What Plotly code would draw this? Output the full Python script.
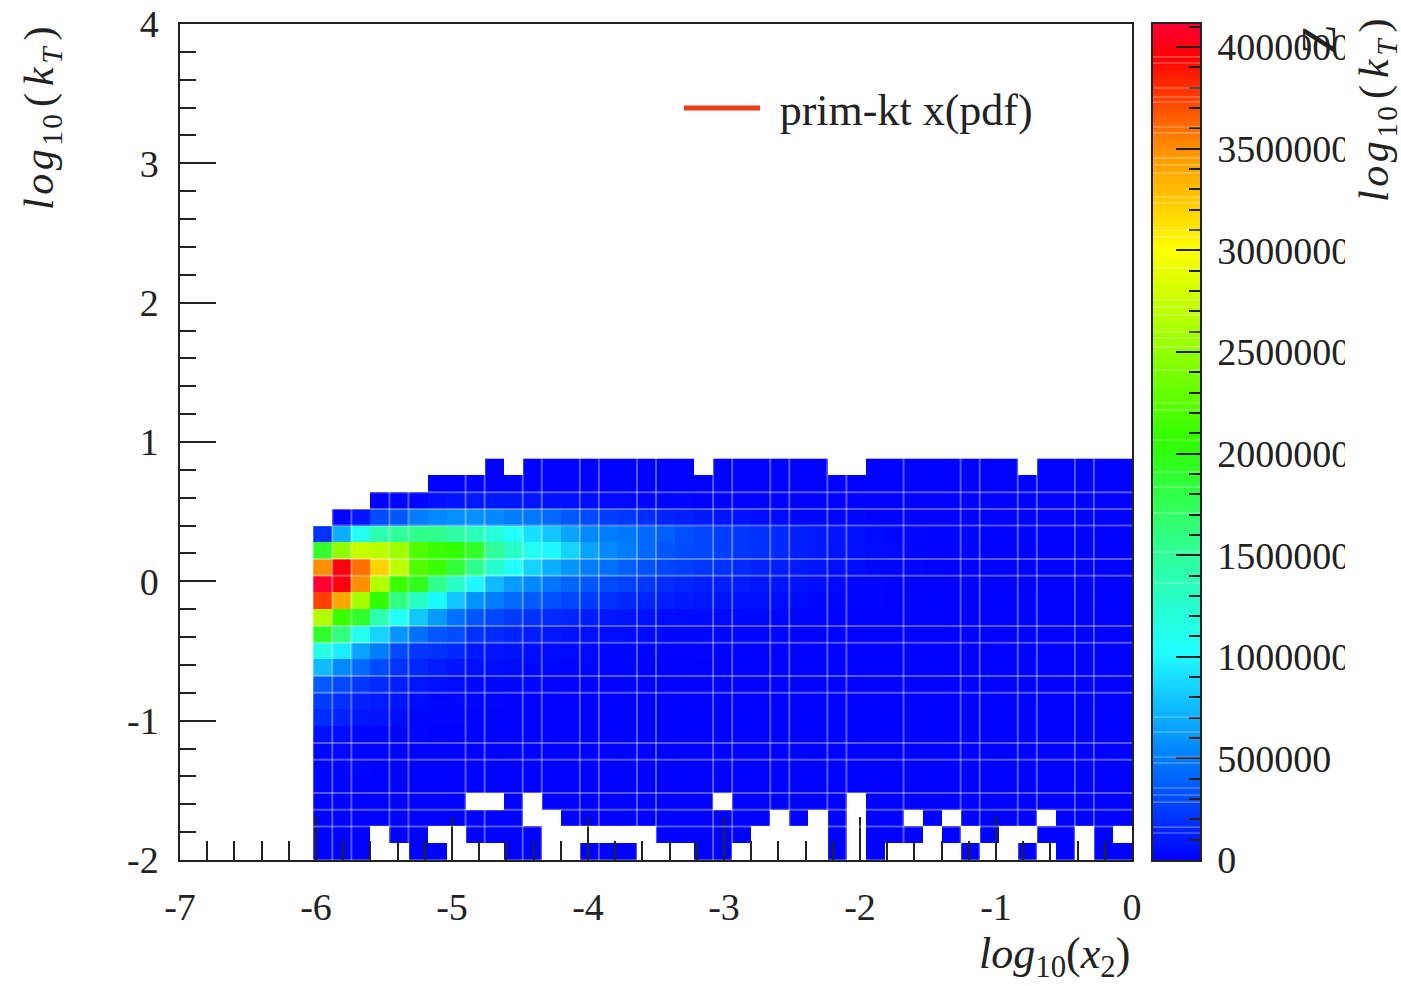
import numpy as np
import plotly.graph_objects as go

N = None
W, H = 1401, 986
FONT = "Liberation Serif"
INK = "#222222"

# bin grid of the histogram (log10 x2, log10 kT)
x_edges = [round(-6.02 + 0.14 * i, 2) for i in range(44)]
y_edges = [round(-2 + 0.12 * i, 2) for i in range(25)]

# cell contents in units of 10 000 entries; None = empty bin
row_00 = [1,1,1,N,N,1,1,N,N,N,1,1,N,N,1,1,1,N,N,N,1,1,N,N,N,N,N,1,N,1,N,N,N,N,1,N,N,1,N,1,N,1,1]
row_01 = [1,1,1,N,1,1,N,N,1,1,1,1,N,N,N,N,N,N,1,1,1,1,1,N,N,N,N,1,N,1,1,1,N,1,N,1,N,N,1,1,N,1,N]
row_02 = [1,1,1,1,1,1,1,1,1,1,1,N,N,1,1,1,1,1,1,1,1,1,1,1,N,1,N,1,N,1,1,N,1,N,1,1,1,1,N,1,1,1,1]
row_03 = [1,1,1,1,1,1,1,1,N,N,1,N,1,1,1,1,1,1,1,1,1,N,1,1,1,1,1,1,N,1,1,1,1,1,1,1,1,1,1,1,1,1,1]
row_04 = [2,2,1,1,1,1,1,1,1,1,1,1,1,1,1,1,1,1,1,1,1,1,1,1,1,1,1,1,1,1,1,1,1,1,1,1,1,1,1,1,1,1,1]
row_05 = [2,2,2,1,1,1,1,1,1,1,1,1,1,1,1,1,1,1,1,1,1,1,1,1,1,1,1,1,1,1,1,1,1,1,1,1,1,1,1,1,1,1,1]
row_06 = [3,3,2,2,1,1,1,1,1,1,1,1,1,1,1,1,1,1,1,1,1,1,1,1,1,1,1,1,1,1,1,1,1,1,1,1,1,1,1,1,1,1,1]
row_07 = [6,5,3,3,2,2,1,1,1,1,1,1,1,1,1,1,1,1,1,1,1,1,1,1,1,1,1,1,1,1,1,1,1,1,1,1,1,1,1,1,1,1,1]
row_08 = [18,14,9,8,5,3,2,2,1,1,1,1,1,1,1,1,1,1,1,1,1,1,1,1,1,1,1,1,1,1,1,1,1,1,1,1,1,1,1,1,1,1,1]
row_09 = [24,19,13,11,8,5,3,3,2,2,1,1,1,1,1,1,1,1,1,1,1,1,1,1,1,1,1,1,1,1,1,1,1,1,1,1,1,1,1,1,1,1,1]
row_10 = [36,30,22,17,12,9,6,5,3,3,2,2,2,1,1,1,1,1,1,1,1,1,1,1,1,1,1,1,1,1,1,1,1,1,1,1,1,1,1,1,1,1,1]
row_11 = [75,55,42,30,20,15,11,8,6,5,4,3,3,2,2,2,2,1,1,1,1,1,1,1,1,1,1,1,1,1,1,1,1,1,1,1,1,1,1,1,1,1,1]
row_12 = [115,95,65,50,30,22,20,16,10,8,7,5,4,4,3,3,3,2,2,2,2,1,1,1,1,1,1,1,1,1,1,1,1,1,1,1,1,1,1,1,1,1,1]
row_13 = [190,160,110,85,60,45,35,30,20,17,14,11,9,7,6,5,4,4,3,3,3,2,2,2,2,1,1,1,1,1,1,1,1,1,1,1,1,1,1,1,1,1,1]
row_14 = [265,210,190,140,105,80,62,45,35,28,24,20,17,14,12,9,8,7,5,4,4,3,3,3,2,2,2,1,1,1,1,1,1,1,1,1,1,1,1,1,1,1,1]
row_15 = [375,340,260,205,160,130,100,80,60,50,42,37,32,28,24,20,16,14,12,10,9,8,7,6,5,4,3,2,2,2,1,1,1,1,1,1,1,1,1,1,1,1,1]
row_16 = [410,400,350,265,210,195,155,130,100,75,62,55,47,40,35,30,26,22,18,15,13,12,11,9,8,7,5,3,2,2,1,1,1,1,1,1,1,1,1,1,1,1,1]
row_17 = [350,400,360,320,270,220,210,185,155,125,105,85,70,60,50,45,38,33,28,25,22,20,17,14,12,10,8,6,4,3,2,2,1,1,1,1,1,1,1,1,1,1,1]
row_18 = [190,250,275,270,255,220,210,205,190,150,130,110,100,85,65,55,50,42,35,30,28,25,22,20,16,13,10,8,6,5,4,3,2,2,2,1,1,1,1,1,1,1,1]
row_19 = [20,70,110,140,150,155,155,145,135,120,105,90,80,65,55,50,48,42,38,32,28,25,22,20,16,13,10,8,6,4,3,3,2,2,2,1,1,1,1,1,1,1,1]
row_20 = [N,2,8,30,35,50,55,58,58,55,50,48,42,35,30,25,22,18,14,12,10,8,7,5,4,3,3,2,2,1,1,1,1,1,1,1,1,1,1,1,1,1,1]
row_21 = [N,N,N,1,2,3,6,8,10,10,9,9,7,6,5,3,3,2,2,2,1,1,1,1,1,1,1,1,1,1,1,1,1,1,1,1,1,1,1,1,1,1,1]
row_22 = [N,N,N,N,N,N,1,1,1,1,1,1,1,1,1,1,1,1,1,1,1,1,1,1,1,1,1,1,1,1,1,1,1,1,1,1,1,1,1,1,1,1,1]
row_23 = [N,N,N,N,N,N,N,N,N,1,N,1,1,1,1,1,1,1,1,1,N,1,1,1,1,1,1,N,N,1,1,1,1,1,1,1,1,N,1,1,1,1,1]
rows = [row_00, row_01, row_02, row_03, row_04, row_05, row_06, row_07, row_08, row_09, row_10, row_11,
        row_12, row_13, row_14, row_15, row_16, row_17, row_18, row_19, row_20, row_21, row_22, row_23]
UNIT = 10000
z_cells = [[None if v is None else v * UNIT for v in r] for r in rows]

z_top = 4114000
x_ticks = [-7, -6, -5, -4, -3, -2, -1, 0]
x_labels = ["-7", "-6", "-5", "-4", "-3", "-2", "-1", "0"]
y_ticks = [-2, -1, 0, 1, 2, 3, 4]
y_labels = ["-2", "-1", "0", "1", "2", "3", "4"]
z_ticks = [0, 500000, 1000000, 1500000, 2000000, 2500000, 3000000, 3500000, 4000000]

# light seams between some bins (indices into the bin edges)
seam_cols = [1, 2, 4, 5, 8, 9, 11, 12, 14, 15, 17, 18, 21, 22, 24, 25, 27, 28, 31, 34, 35, 37, 38, 40, 41]
seam_rows = [2, 3, 4, 6, 7, 10, 11, 13, 14, 17, 18, 20, 21, 22]
# light seams across the palette (values of z)
seam_levels = [133000, 162000, 285000, 320000, 354000, 477000, 507000, 630000, 704000, 1363000, 1516000,
               1708000, 1836000, 1909000, 2067000, 2215000, 2249000, 2411000, 2525000, 2569000, 2598000,
               2682000, 2721000, 2756000, 2913000, 3066000, 3100000, 3233000, 3263000, 3381000, 3420000,
               3455000, 3578000, 3607000, 3730000, 3755000, 3799000, 3922000, 3952000]

palette = [[0.0, "#0000ff"], [0.125, "#0080ff"], [0.25, "#20ffff"], [0.375, "#30ff90"],
           [0.5, "#30ff00"], [0.625, "#a0ff00"], [0.73, "#ffff00"], [0.85, "#ff9000"],
           [0.96, "#ff0000"], [1.0, "#ff0035"]]


def px(x):
    return x / W


def py(y):
    return 1 - y / H


fig = go.Figure()
fig.add_trace(go.Heatmap(x=x_edges, y=y_edges, z=z_cells, zmin=0, zmax=z_top, colorscale=palette,
                         showscale=False, xaxis="x", yaxis="y", name="log10(kT) vs log10(x2)"))

cb_levels = np.linspace(0, z_top, 257)
fig.add_trace(go.Heatmap(x=[0, 1], y=cb_levels, z=[[v] for v in (cb_levels[:-1] + cb_levels[1:]) / 2],
                         zmin=0, zmax=z_top, colorscale=palette, showscale=False,
                         xaxis="x2", yaxis="y2", name="Z"))

fig.add_trace(go.Scatter(x=[None], y=[None], mode="lines", name="\u00a0\u200aprim-kt x(pdf)",
                         line=dict(color="#f03c14", width=5), xaxis="x", yaxis="y"))

seam = dict(color="rgba(255,255,255,0.34)", width=2)
shapes = []
for c in seam_cols:
    shapes.append(dict(type="line", xref="x", yref="y", x0=x_edges[c], x1=x_edges[c],
                       y0=y_edges[0], y1=y_edges[-1], line=seam, layer="above"))
for r in seam_rows:
    shapes.append(dict(type="line", xref="x", yref="y", x0=x_edges[0], x1=x_edges[-1],
                       y0=y_edges[r], y1=y_edges[r], line=seam, layer="above"))
for v in seam_levels:
    shapes.append(dict(type="line", xref="x2", yref="y2", x0=0, x1=1, y0=v, y1=v,
                       line=dict(color="rgba(255,255,255,0.28)", width=1.6), layer="above"))
# the palette labels are cut off on the right in the original
shapes.append(dict(type="rect", xref="paper", yref="paper", x0=px(1345), x1=px(1362),
                   y0=py(880), y1=py(20), fillcolor="white", line=dict(width=0), layer="above"))

tickfont = dict(family=FONT, size=38, color=INK)
common = dict(showline=True, linecolor=INK, linewidth=1.5, mirror=True, showgrid=False, zeroline=False,
              ticks="inside", tickcolor=INK, tickwidth=1.5, tickfont=tickfont)

title_font = dict(family=FONT, size=42, color=INK)
hair = "\u200a"
kt_title = (f"<i>l{hair}o{hair}g</i>{hair}<sub>1{hair}0</sub>{hair}{hair}({hair}{hair}<i>k</i>"
            f"{hair}<sub><i>T</i></sub>{hair}{hair})")

fig.update_layout(
    width=W, height=H, margin=dict(l=0, r=0, t=0, b=0, autoexpand=False),
    paper_bgcolor="white", plot_bgcolor="white",
    font=dict(family=FONT, color=INK),
    shapes=shapes,
    showlegend=True,
    legend=dict(x=px(679), y=py(73), xanchor="left", yanchor="top", bgcolor="rgba(0,0,0,0)",
                itemwidth=76, font=dict(family=FONT, size=44, color=INK)),
    xaxis=dict(domain=[px(180), px(1132)], range=[-7, 0], anchor="y", tickvals=x_ticks, ticktext=x_labels,
               ticklen=43, ticklabelstandoff=13,
               minor=dict(ticks="inside", dtick=0.2, tick0=-7, ticklen=19, tickwidth=1.5, tickcolor=INK),
               **common),
    yaxis=dict(domain=[py(860), py(24)], range=[-2, 4], anchor="x", tickvals=y_ticks, ticktext=y_labels,
               ticklen=36, ticklabelstandoff=12,
               minor=dict(ticks="inside", dtick=0.2, tick0=-2, ticklen=16, tickwidth=1.5, tickcolor=INK),
               **common),
    xaxis2=dict(domain=[px(1153), px(1200)], range=[0, 1], anchor="y2", showticklabels=False,
                showline=True, linecolor=INK, linewidth=1.5, mirror=True, ticks="", showgrid=False,
                zeroline=False),
    yaxis2=dict(domain=[py(860), py(24)], range=[0, z_top], anchor="x2", side="right",
                tickvals=z_ticks, ticktext=[str(v) for v in z_ticks], ticklen=24, ticklabelstandoff=8,
                minor=dict(ticks="inside", dtick=100000, tick0=0, ticklen=11, tickwidth=1.5, tickcolor=INK),
                **common),
    annotations=[
        dict(text=kt_title, xref="paper", yref="paper",
             x=px(42), y=py(24), xanchor="center", yanchor="top", textangle=-90, showarrow=False,
             font=title_font),
        dict(text="<i>log</i><sub>10</sub>(<i>x</i><sub>2</sub>)", xref="paper", yref="paper",
             x=px(1132), y=py(986), xanchor="right", yanchor="bottom", showarrow=False,
             font=dict(family=FONT, size=44, color=INK)),
        dict(text=kt_title, xref="paper", yref="paper",
             x=px(1377), y=py(16), xanchor="center", yanchor="top", textangle=-90, showarrow=False,
             font=title_font),
        dict(text="Z", xref="paper", yref="paper", x=px(1318), y=py(40), xanchor="center", yanchor="middle",
             textangle=-90, showarrow=False, font=dict(family=FONT, size=48, color=INK)),
    ],
)

fig.write_html("out.html", config=dict(displayModeBar=False), post_script="document.body.style.margin='0';")
